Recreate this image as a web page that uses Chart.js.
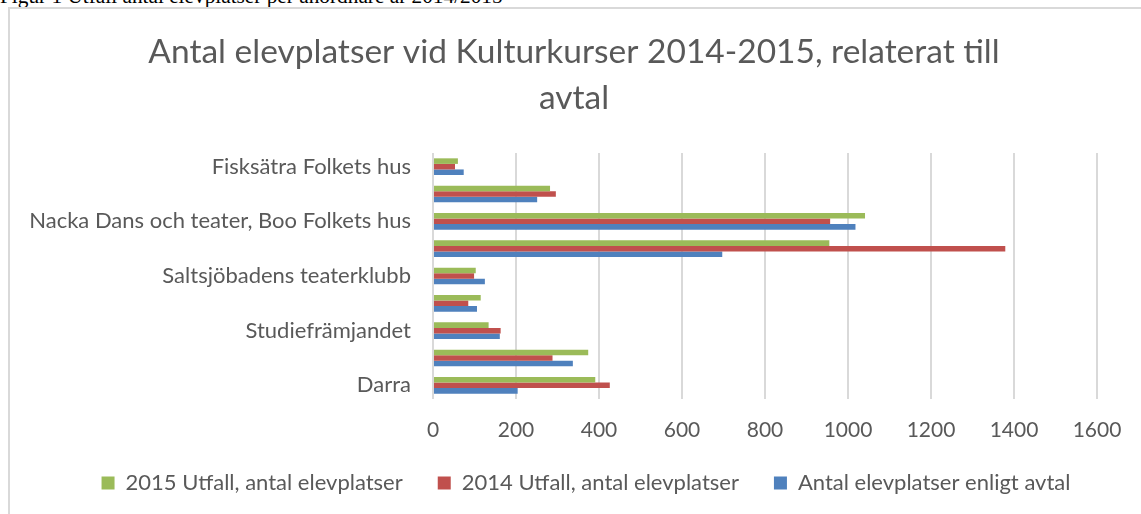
<!DOCTYPE html>
<html><head><meta charset="utf-8">
<script src="https://cdn.jsdelivr.net/npm/chart.js"></script>
<style>
html,body{margin:0;padding:0;background:#fff;width:1141px;height:514px;overflow:hidden;position:relative}
#caption{position:absolute;left:0;top:-14px;font-family:"Liberation Serif","Times New Roman",serif;font-size:21.3px;line-height:21px;white-space:nowrap;color:#000}
#frame{position:absolute;left:8px;top:7px;width:1200px;height:600px;border:2px solid #d9d9d9;box-sizing:border-box}
#wrap{position:absolute;left:0;top:0;width:1141px;height:514px}
</style></head><body>
<div id="caption">Figur 1 Utfall antal elevplatser per anordnare år 2014/2015</div>
<div id="frame"></div>
<div id="wrap"><canvas id="c"></canvas></div>
<script>
const categories = ['Fisksätra Folkets hus', '', 'Nacka Dans och teater, Boo Folkets hus', '', 'Saltsjöbadens teaterklubb', '', 'Studiefrämjandet', '', 'Darra'];
const utfall2015 = [60, 282, 1041, 955, 103, 115, 134, 374, 391];
const utfall2014 = [53, 296, 957, 1379, 99, 85, 163, 288, 426];
const avtal = [74, 251, 1018, 697, 125, 106, 161, 337, 204];
const xTicks = [0, 200, 400, 600, 800, 1000, 1200, 1400, 1600];
const titleLines = ['Antal elevplatser vid Kulturkurser 2014-2015, relaterat till', 'avtal'];
const seriesNames = ['2015 Utfall, antal elevplatser', '2014 Utfall, antal elevplatser', 'Antal elevplatser enligt avtal'];

const FONT = 'Lato';
const TXT = '#595959';

const layoutTweaks = {
  id: 'layoutTweaks',
  afterLayout(chart) {
    const lg = chart.legend;
    if (lg) { lg.left += 12; lg.right += 12; }
  },
  beforeDraw(chart) {
    const y = chart.scales.y;
    if (y) y._computeLabelArea = () => undefined;
  }
};

new Chart(document.getElementById('c'), {
  type: 'bar',
  plugins: [layoutTweaks],
  data: {
    labels: categories,
    datasets: [
      {label: seriesNames[0], data: utfall2015, backgroundColor: '#9bbb59'},
      {label: seriesNames[1], data: utfall2014, backgroundColor: '#c0504d'},
      {label: seriesNames[2], data: avtal, backgroundColor: '#4f81bd'}
    ]
  },
  options: {
    indexAxis: 'y',
    responsive: true,
    maintainAspectRatio: false,
    animation: false,
    datasets: {bar: {categoryPercentage: 0.61, barPercentage: 1.0}},
    layout: {padding: {left: 51, right: 44, top: 0, bottom: 10}},
    scales: {
      x: {
        min: xTicks[0], max: xTicks[xTicks.length - 1],
        afterBuildTicks: s => { s.ticks = xTicks.map(v => ({value: v})); },
        afterFit: s => { s.height = 38; },
        grid: {color: '#d9d9d9', lineWidth: 2, drawTicks: false},
        border: {display: false},
        ticks: {color: TXT, font: {family: FONT, size: 21}, padding: 19, maxRotation: 0,
                callback: v => String(v)}
      },
      y: {
        afterFit: s => { s.width = 382; },
        grid: {display: false, drawTicks: false},
        border: {display: false},
        ticks: {color: TXT, font: {family: FONT, size: 22}, padding: 22, autoSkip: false}
      }
    },
    plugins: {
      tooltip: {enabled: false},
      title: {
        display: true,
        text: titleLines,
        color: TXT,
        font: {family: FONT, size: 33.5, weight: 'normal', lineHeight: 46 / 33.5},
        padding: {top: 29, bottom: 32}
      },
      legend: {
        position: 'bottom',
        labels: {color: TXT, font: {family: FONT, size: 22}, boxWidth: 13, boxHeight: 13, padding: 35}
      }
    }
  }
});
</script>
</body></html>
